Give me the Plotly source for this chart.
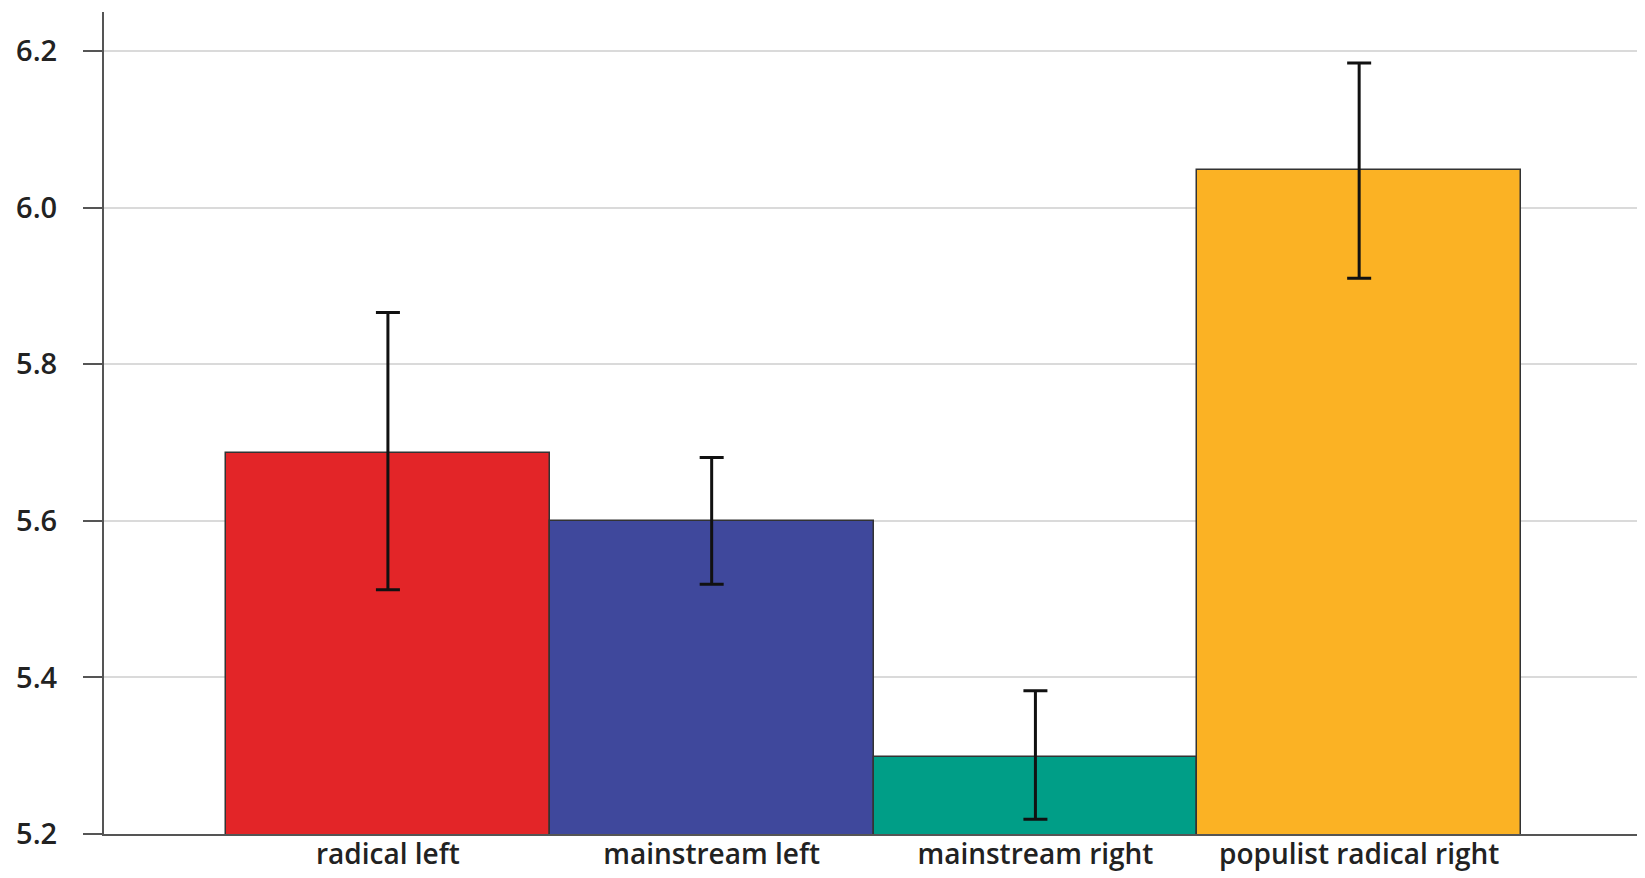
import plotly.graph_objects as go

categories = ["radical left", "mainstream left", "mainstream right", "populist radical right"]
means = [5.687, 5.600, 5.298, 6.048]
err_plus = [0.179, 0.081, 0.085, 0.137]
err_minus = [0.175, 0.081, 0.079, 0.138]
colors = ["#E32528", "#3F489C", "#009E87", "#FBB224"]
y_ticks = [5.2, 5.4, 5.6, 5.8, 6.0, 6.2]
y_tick_labels = ["5.2", "5.4", "5.6", "5.8", "6.0", "6.2"]

xpos = list(range(len(categories)))

fig = go.Figure()
fig.add_trace(go.Bar(
    x=xpos, y=means, width=1.0,
    marker=dict(color=colors, line=dict(color="#333333", width=1.5)),
    error_y=dict(type="data", symmetric=False, array=err_plus, arrayminus=err_minus,
                 color="#111111", thickness=3, width=12),
    showlegend=False,
))

fig.update_layout(
    width=1645, height=878,
    margin=dict(l=96, r=7, t=4, b=52),
    paper_bgcolor="white", plot_bgcolor="white",
    font=dict(family="Open Sans", size=28, color="#222222", weight=600),
    xaxis=dict(range=[-0.877, 3.886], tickmode="array", tickvals=xpos, ticktext=categories,
               showgrid=False, zeroline=False, showline=True, linecolor="#555555", linewidth=2,
               ticks="", tickfont=dict(size=28), ticklabelstandoff=-6),
    yaxis=dict(range=[5.2, 6.25], tickmode="array", tickvals=y_ticks, ticktext=y_tick_labels,
               showgrid=True, gridcolor="#dadada", gridwidth=2, zeroline=False,
               showline=True, linecolor="#555555", linewidth=2,
               ticks="outside", ticklen=19, tickwidth=2, tickcolor="#555555",
               tickfont=dict(size=29), ticklabelstandoff=20),
    bargap=0,
)

fig.write_html("out.html")
